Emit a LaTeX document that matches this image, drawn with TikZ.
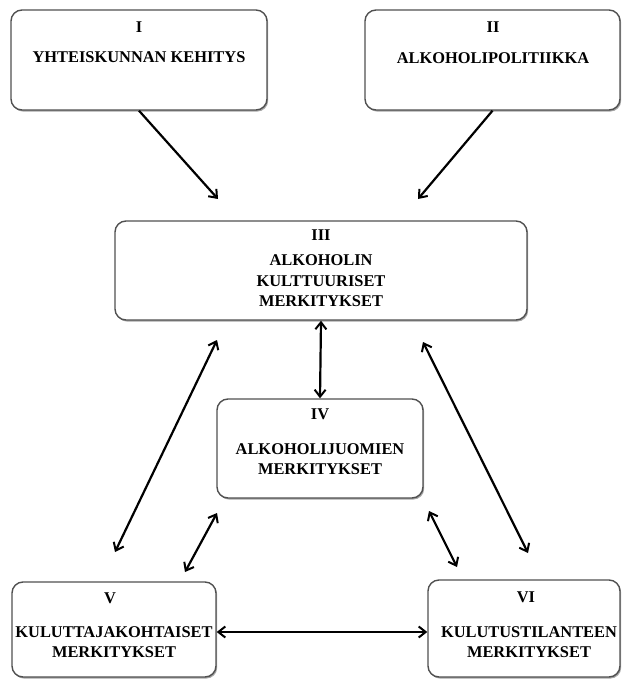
\documentclass[tikz,border=0pt]{standalone}
\usepackage{fontspec}
\setmainfont{Liberation Serif}
\usetikzlibrary{arrows.meta,shadows}
\definecolor{boxgray}{HTML}{505050}
\begin{document}
\begin{tikzpicture}[x=1pt,y=-1pt,
  panel/.style={draw=boxgray,line width=1.4pt,rounded corners=11pt,fill=white,inner sep=0pt,
    drop shadow={shadow xshift=1.2pt,shadow yshift=-1.6pt,opacity=0.35,fill=black}},
  boxtext/.style={font=\bfseries\fontsize{16.4}{20.5}\selectfont,align=center,inner sep=0pt},
  tip/.tip={Straight Barb[length=7pt,width=11pt,line width=2pt]},
  oneway/.style={line width=2.2pt,-tip},
  twoway/.style={line width=2.2pt,tip-tip}]
\useasboundingbox (0,0) rectangle (622,679);

% boxes
\node[panel,minimum width=256pt,minimum height=100pt] (I)   at (139,60) {};
\node[panel,minimum width=255pt,minimum height=100pt] (II)  at (492.5,60) {};
\node[panel,minimum width=412pt,minimum height=99pt]  (III) at (321,270.5) {};
\node[panel,minimum width=206pt,minimum height=99pt]  (IV)  at (320,448.5) {};
\node[panel,minimum width=204pt,minimum height=95pt]  (V)   at (114,629.5) {};
\node[panel,minimum width=192pt,minimum height=97pt]  (VI)  at (524,628.5) {};

% box texts
\node[boxtext] (tI)   at (139,27) {I};
\node[boxtext] (lI)   at (139,57) {YHTEISKUNNAN KEHITYS};
\node[boxtext] (tII)  at (493,27) {II};
\node[boxtext] (lII)  at (493,58) {ALKOHOLIPOLITIIKKA};
\node[boxtext] (tIII) at (321,235) {III};
\node[boxtext] (lIII) at (321,281) {ALKOHOLIN\\KULTTUURISET\\MERKITYKSET};
\node[boxtext] (tIV)  at (320,414) {IV};
\node[boxtext] (lIV)  at (320,459) {ALKOHOLIJUOMIEN\\MERKITYKSET};
\node[boxtext] (tV)   at (110,598) {V};
\node[boxtext] (lV)   at (114,642) {KULUTTAJAKOHTAISET\\MERKITYKSET};
\node[boxtext] (tVI)  at (526,597) {VI};
\node[boxtext] (lVI)  at (529,642) {KULUTUSTILANTEEN\\MERKITYKSET};

% free arrow ends
\coordinate (aI)  at (218,199);
\coordinate (aII) at (418,199);
\coordinate (l1) at (217,340);
\coordinate (l2) at (115,552);
\coordinate (s1) at (217,513);
\coordinate (s2) at (185,572);
\coordinate (r1) at (423,342);
\coordinate (r2) at (528,553);
\coordinate (q1) at (429,511);
\coordinate (q2) at (457,567);

% connectors
\draw[oneway] (I.south) -- (aI);
\draw[oneway] (II.south) -- (aII);
\draw[twoway] (III.south) -- (IV.north);
\draw[twoway] (l1) -- (l2);
\draw[twoway] (s1) -- (s2);
\draw[twoway] (r1) -- (r2);
\draw[twoway] (q1) -- (q2);
\draw[twoway] ([yshift=-2.5pt]V.east) -- ([yshift=-2.5pt]V.east -| VI.west);
\end{tikzpicture}
\end{document}
